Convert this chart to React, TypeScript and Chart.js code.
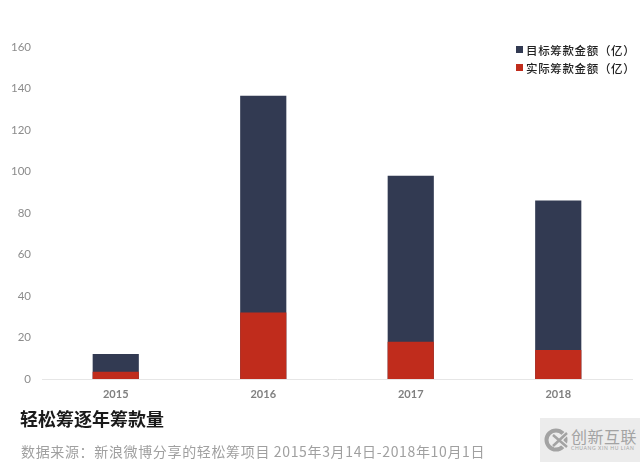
import { Chart, registerables } from "chart.js";
import { useEffect, useRef } from "react";
Chart.register(...registerables);

const years = ["2015", "2016", "2017", "2018"];
const targetAmount = [12, 136.5, 98, 86];
const actualAmount = [3.5, 32, 18, 14];
const targetLabel = "目标筹款金额（亿）";
const actualLabel = "实际筹款金额（亿）";
const chartTitle = "轻松筹逐年筹款量";
const sourceNote = "数据来源：新浪微博分享的轻松筹项目 2015年3月14日-2018年10月1日";
const targetColor = "#323a52";
const actualColor = "#c02c1c";

const cjk = '"Noto Sans CJK SC", sans-serif';

function LegendRow({ top, color, label }: { top: number; color: string; label: string }) {
  return (
    <div style={{ position: "absolute", left: 516, top, height: 18, whiteSpace: "nowrap" }}>
      <span style={{ position: "absolute", left: 0, top: 5, width: 7, height: 7, background: color }} />
      <span style={{ position: "absolute", left: 10, top: 0, fontFamily: cjk, fontSize: 11.5, fontWeight: 500, letterSpacing: 0.65, lineHeight: "18px", color: "#222222" }}>
        {label}
      </span>
    </div>
  );
}

function App() {
  const chartRef = useRef<HTMLCanvasElement | null>(null);

  useEffect(() => {
    const ctx = chartRef.current?.getContext("2d");
    if (!ctx) return;
    const chart = new Chart(ctx, {
      type: "bar",
      data: {
        labels: years,
        datasets: [
          { label: targetLabel, data: targetAmount, backgroundColor: targetColor, order: 2 },
          { label: actualLabel, data: actualAmount, backgroundColor: actualColor, order: 1 },
        ],
      },
      options: {
        responsive: false,
        animation: false,
        devicePixelRatio: 1,
        layout: { padding: { top: 47, right: 8, left: 0, bottom: 0 } },
        datasets: { bar: { categoryPercentage: 1, barPercentage: 0.313 } },
        plugins: {
          tooltip: { enabled: false },
          legend: { display: false },
        },
        scales: {
          x: {
            stacked: true,
            afterFit: (scale) => {
              scale.height = 83;
            },
            grid: { display: false, drawTicks: false },
            border: { color: "#e6e6e6" },
            ticks: {
              padding: 9,
              color: "#808080",
              font: { family: "Lato, sans-serif", size: 11, weight: "bold" },
            },
          },
          y: {
            min: 0,
            max: 160,
            afterFit: (scale) => {
              scale.width = 42;
            },
            grid: { display: false, drawTicks: false },
            border: { display: false },
            ticks: {
              stepSize: 20,
              padding: 11,
              color: "#8c8c8c",
              font: { family: "Lato, sans-serif", size: 11.5 },
            },
          },
        },
      },
    });
    return () => {
      chart.destroy();
    };
  }, []);

  return (
    <div style={{ position: "absolute", left: 0, top: 0, width: 640, height: 462, overflow: "hidden", background: "#fff" }}>
      <canvas ref={chartRef} width={640} height={462} style={{ display: "block" }} />
      <LegendRow top={41} color={targetColor} label={targetLabel} />
      <LegendRow top={59} color={actualColor} label={actualLabel} />
      <div style={{ position: "absolute", left: 20, top: 406, fontFamily: cjk, fontSize: 18, fontWeight: 700, color: "#1a1a1a", lineHeight: "24px", whiteSpace: "nowrap" }}>
        {chartTitle}
      </div>
      <div style={{ position: "absolute", left: 21, top: 440, fontFamily: cjk, fontSize: 14, letterSpacing: 0.65, color: "#a0a0a0", lineHeight: "22px", whiteSpace: "nowrap" }}>
        {sourceNote}
      </div>
      <div style={{ position: "absolute", left: 540, top: 418, width: 100, height: 44, background: "#ececec", color: "#a3a3a3" }}>
        <svg width="26" height="26" style={{ position: "absolute", left: 3, top: 9 }}>
          <circle cx="13" cy="13" r="9.5" fill="none" stroke="#a3a3a3" strokeWidth="4" />
          <path d="M10 8 L24 20 M24 6 L10 19" stroke="#ececec" strokeWidth="5" />
          <path d="M10 8 L24 20 M24 6 L10 19" stroke="#a3a3a3" strokeWidth="2.5" />
        </svg>
        <div style={{ position: "absolute", left: 31, top: 8, fontFamily: cjk, fontSize: 16, lineHeight: "20px", whiteSpace: "nowrap", letterSpacing: 0.5 }}>创新互联</div>
        <div style={{ position: "absolute", left: 31, top: 27, fontFamily: "Lato, sans-serif", fontSize: 5, lineHeight: "7px", whiteSpace: "nowrap", letterSpacing: 0.6 }}>CHUANG XIN HU LIAN</div>
      </div>
    </div>
  );
}

export default App;
